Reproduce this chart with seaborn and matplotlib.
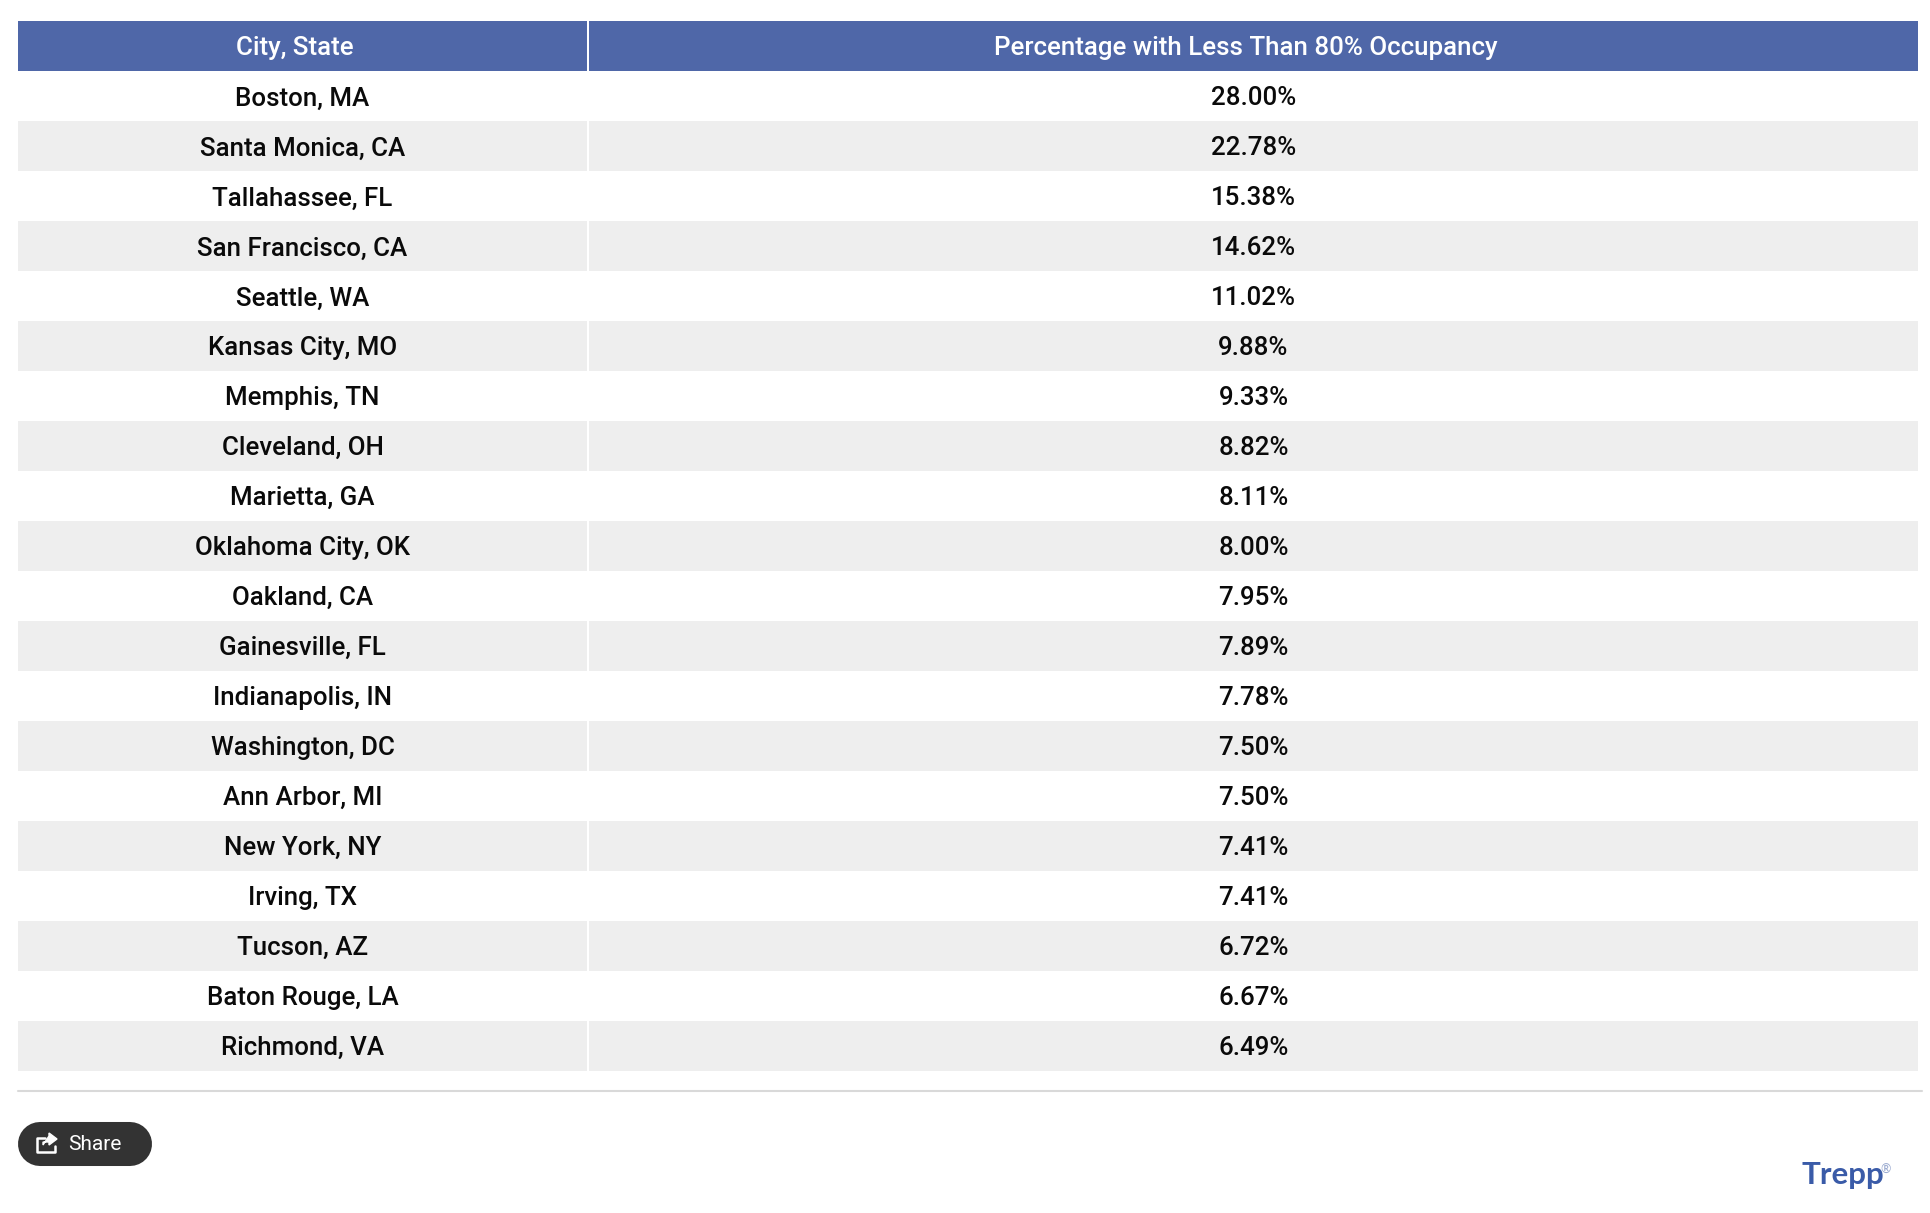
import pandas as pd
import matplotlib.pyplot as plt
from matplotlib.colors import ListedColormap
import seaborn as sns

rows = [
    ("Boston, MA", "28.00%"), ("Santa Monica, CA", "22.78%"), ("Tallahassee, FL", "15.38%"),
    ("San Francisco, CA", "14.62%"), ("Seattle, WA", "11.02%"), ("Kansas City, MO", "9.88%"),
    ("Memphis, TN", "9.33%"), ("Cleveland, OH", "8.82%"), ("Marietta, GA", "8.11%"),
    ("Oklahoma City, OK", "8.00%"), ("Oakland, CA", "7.95%"), ("Gainesville, FL", "7.89%"),
    ("Indianapolis, IN", "7.78%"), ("Washington, DC", "7.50%"), ("Ann Arbor, MI", "7.50%"),
    ("New York, NY", "7.41%"), ("Irving, TX", "7.41%"), ("Tucson, AZ", "6.72%"),
    ("Baton Rouge, LA", "6.67%"), ("Richmond, VA", "6.49%"),
]
df = pd.DataFrame(rows, columns=["City, State", "Percentage with Less Than 80% Occupancy"])

W, H = 1930, 1213
custom_params = {"font.family": "Roboto", "font.weight": 500}
sns.set_theme(style="white", rc=custom_params)

# 0 = white row, 1 = grey row, 2 = header
band = [2] + [i % 2 for i in range(len(df))]
cmap = ListedColormap(["#ffffff", "#eeeeee", "#4f67a8"])

fig = plt.figure(figsize=(W / 100, H / 100), dpi=100)

# One heatmap per column, the columns have different widths
for col, (left, right) in zip(df.columns, [(18, 587), (589, 1918)]):
    ax = fig.add_axes([left / W, 1 - 1070.5 / H, (right - left) / W, 1049.5 / H])
    labels = pd.DataFrame({col: [col] + df[col].tolist()})
    sns.heatmap(pd.DataFrame({col: band}), annot=labels, fmt="", cmap=cmap, vmin=0, vmax=2, cbar=False,
                xticklabels=False, yticklabels=False, ax=ax,
                annot_kws={"fontsize": 18.6, "color": "#0a0a0a", "fontweight": 500, "va": "center_baseline"})
    # Header text is white and sits left of the cell centre
    ax.texts[0].set_color("white")
    ax.texts[0].set_x(0.5 - 7.5 / (right - left))

# Footer with pixel coordinates
ax = fig.add_axes([0, 0, 1, 1], zorder=5)
ax.set_xlim(0, W)
ax.set_ylim(H, 0)
ax.axis("off")
ax.plot([18, 1922], [1091, 1091], color="#d9d9d9", lw=1.5)
ax.plot([40, 130], [1144, 1144], color="#333333", lw=31.7, solid_capstyle="round")  # the button
ax.text(68, 1145, "Share", color="white", fontsize=15, fontweight=400, va="center", ha="left")
ax.plot([45, 37, 37, 55, 55], [1138, 1138, 1152, 1152, 1146], color="white", lw=1.8)
ax.fill([49, 57, 49, 49, 43, 43, 49], [1133, 1139, 1145, 1142, 1142, 1145, 1136], color="white", zorder=3)
ax.text(1801, 1175, "Trepp", color="#3a5ba8", fontsize=22.5, fontweight="bold", family="Lato", va="center", ha="left")
ax.text(1880, 1170, "®", color="#9aaad0", fontsize=9, family="Lato", va="center", ha="left")

plt.savefig("out.png", dpi=100)
